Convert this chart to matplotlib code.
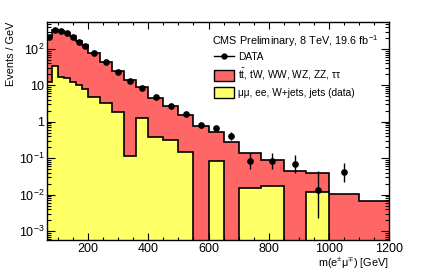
import numpy as np
import matplotlib
matplotlib.use("Agg")
import matplotlib.pyplot as plt
from matplotlib.patches import Patch
from matplotlib.lines import Line2D
from matplotlib.ticker import MultipleLocator, FixedLocator, LogLocator, NullFormatter

plt.rcParams['font.family'] = ['Liberation Sans', 'DejaVu Sans']
plt.rcParams['mathtext.fontset'] = 'custom'
plt.rcParams['mathtext.rm'] = 'Liberation Sans'
plt.rcParams['mathtext.it'] = 'Liberation Sans:italic'
plt.rcParams['mathtext.bf'] = 'Liberation Sans:bold'

# ---------------- data ----------------
bin_edges = [60, 80, 100, 120, 140, 160, 180, 200, 240, 280, 320, 360, 400,
             450, 500, 550, 600, 650, 700, 775, 850, 925, 1000, 1100, 1200]

# stacked total (top of red histogram), events / GeV
mc_total = [215, 340, 315, 275, 225, 168, 128, 79, 45, 25, 14, 8.9, 4.6,
            2.65, 1.5, 0.78, 0.52, 0.28, 0.141, 0.089, 0.045, 0.040, 0.0102, 0.0066]

# mumu, ee, W+jets, jets (data-driven), events / GeV
mc_dy_wjets = [12.5, 35, 17.4, 15.7, 12.6, 10.3, 7.8, 4.7, 3.2, 1.9, 0.115, 1.25,
               0.375, 0.316, 0.15, 0, 0.084, 0, 0.0155, 0.0176, 0, 0.012, 0, 0]

# data points (bin centres taken from bin edges); last bin has no data
data_vals = [210, 333, 318, 270, 218, 156, 123, 79, 44.8, 23.8, 13.2, 8.65, 4.8,
             2.72, 1.62, 0.82, 0.66, 0.40, 0.084, 0.084, 0.0706, 0.0136, 0.0418]
data_err_lo = [3, 4, 4, 4, 3, 3, 2.5, 1.4, 1.1, 0.77, 0.57, 0.47, 0.31,
               0.23, 0.18, 0.13, 0.11, 0.09, 0.034, 0.034, 0.031, 0.0113, 0.020]
data_err_hi = [3, 4, 4, 4, 3, 3, 2.5, 1.4, 1.1, 0.77, 0.57, 0.47, 0.31,
               0.23, 0.18, 0.13, 0.12, 0.115, 0.054, 0.053, 0.051, 0.032, 0.033]

title_text = "CMS Preliminary, 8 TeV, 19.6 fb$^{\\mathregular{-1}}$"
label_data = "DATA"
label_top = "t$\\mathregular{\\bar{t}}$, tW, WW, WZ, ZZ, ττ"
label_dy = "μμ, ee, W+jets, jets (data)"

RED = '#ff6666'
YELLOW = '#ffff66'

# ---------------- figure ----------------
W, H = 427, 273
fig = plt.figure(figsize=(W / 100, H / 100), dpi=100)
ax = fig.add_axes([47 / W, 1 - 240 / H, (389 - 47) / W, (240 - 22) / H])

edges = np.array(bin_edges, dtype=float)
total = np.array(mc_total, dtype=float)
dy = np.array(mc_dy_wjets, dtype=float)
dy_plot = np.where(dy > 0, dy, 1e-9)
base = 1e-6

ax.stairs(total, edges, fill=True, color=RED, baseline=base, lw=0)
ax.stairs(total, edges, color='k', lw=1.2, baseline=None)
ax.stairs(dy_plot, edges, fill=True, color=YELLOW, baseline=base, lw=0)
ax.stairs(dy_plot, edges, color='k', lw=1.2, baseline=None)

centers = 0.5 * (edges[:-1] + edges[1:])
nd = len(data_vals)
ax.errorbar(centers[:nd], data_vals, yerr=[data_err_lo, data_err_hi], fmt='o',
            color='k', ms=3.8, elinewidth=1.0, capsize=0, zorder=5)

ax.set_yscale('log')
ax.set_xlim(63, 1200)
ax.set_ylim(5.66e-4, 552)

ax.xaxis.set_major_locator(MultipleLocator(200))
ax.xaxis.set_minor_locator(MultipleLocator(50))
ax.yaxis.set_major_locator(FixedLocator([1e-3, 1e-2, 1e-1, 1, 10, 100]))
ax.set_yticklabels(['$\\mathregular{10^{-3}}$', '$\\mathregular{10^{-2}}$',
                    '$\\mathregular{10^{-1}}$', '1', '10', '$\\mathregular{10^{2}}$'])
ax.yaxis.set_minor_locator(LogLocator(base=10, subs=np.arange(2, 10)))
ax.yaxis.set_minor_formatter(NullFormatter())

ax.tick_params(which='both', direction='in', top=True, right=True, labelsize=9,
               width=0.8, color='k')
ax.tick_params(axis='x', which='major', length=5, pad=2)
ax.tick_params(axis='x', which='minor', length=2.5)
ax.tick_params(axis='y', which='major', length=5.5, pad=2)
ax.tick_params(axis='y', which='minor', length=3)
for s in ax.spines.values():
    s.set_linewidth(1.0)
    s.set_zorder(10)

ax.set_xlabel("m(e$^{\\mathregular{\\pm}}$μ$^{\\mathregular{\\mp}}$) [GeV]",
              fontsize=7.8, loc='right', labelpad=0.5)
ax.set_ylabel("Events / GeV", fontsize=7.8, loc='top', labelpad=2)

fig.text(212 / W, 1 - 41 / H, title_text, fontsize=7.8, va='center', ha='left')

handles = [Line2D([0], [0], color='k', marker='o', ms=3.5, lw=1.0),
           Patch(facecolor=RED, edgecolor='k', lw=1.0),
           Patch(facecolor=YELLOW, edgecolor='k', lw=1.0)]
leg = ax.legend(handles, [label_data, label_top, label_dy], loc='upper left',
                bbox_to_anchor=(211 / W, 1 - 48 / H), bbox_transform=fig.transFigure,
                frameon=False, fontsize=7.3, handlelength=2.0, handleheight=1.3,
                handletextpad=0.4, labelspacing=0.5, borderpad=0.3, borderaxespad=0)

fig.savefig("out.png", dpi=100)
